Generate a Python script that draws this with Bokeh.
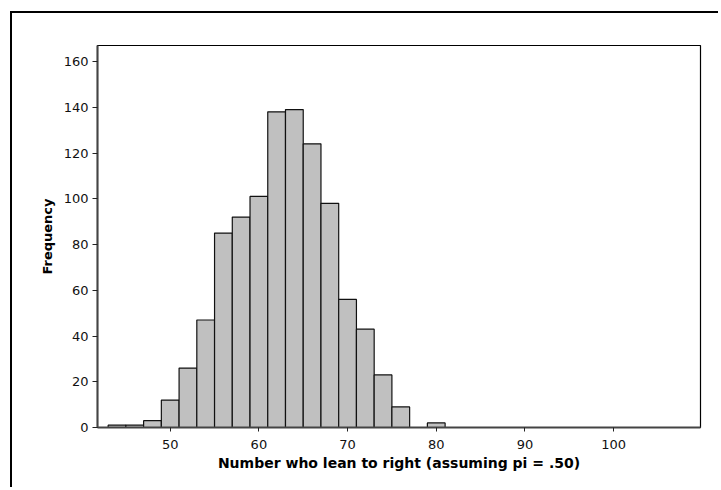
from bokeh.plotting import figure
from bokeh.models import FixedTicker, ColumnDataSource
from bokeh.embed import file_html
from bokeh.resources import INLINE

# Histogram data (bin centers, bin width 2)
bin_centers = [44, 46, 48, 50, 52, 54, 56, 58, 60, 62, 64, 66, 68, 70, 72, 74, 76, 78, 80,
               82, 84, 86, 88, 90, 92, 94, 96, 98, 100, 102, 104, 106, 108]
counts = [1, 1, 3, 12, 26, 47, 85, 92, 101, 138, 139, 124, 98, 56, 43, 23, 9, 0, 2,
          0, 0, 0, 0, 0, 0, 0, 0, 0, 0, 0, 0, 0, 0]
bin_width = 2
x_ticks = [50, 60, 70, 80, 90, 100]
y_ticks = [0, 20, 40, 60, 80, 100, 120, 140, 160]

src = ColumnDataSource(dict(
    left=[c - bin_width / 2 for c in bin_centers],
    right=[c + bin_width / 2 for c in bin_centers],
    top=counts,
    bottom=[0] * len(counts),
))

p = figure(width=708, height=476, x_range=(41.8, 109.8), y_range=(0, 167),
           output_backend="svg", toolbar_location=None,
           min_border_left=85, min_border_right=20, min_border_top=32, min_border_bottom=62)
p.margin = (11, 0, 0, 10)
p.styles = {"border-left": "2px solid black", "border-top": "2px solid black"}

p.quad(left="left", right="right", top="top", bottom="bottom", source=src,
       fill_color="#C0C0C0", line_color="#111111", line_width=1.2)

p.xgrid.visible = False
p.ygrid.visible = False
p.outline_line_color = "#000000"
p.outline_line_width = 1.2
p.background_fill_color = "white"
p.border_fill_color = "white"

for ax in (p.xaxis[0], p.yaxis[0]):
    ax.axis_line_color = "#444444"
    ax.axis_line_width = 2
    ax.major_tick_line_color = "#222222"
    ax.major_tick_in = 0
    ax.minor_tick_line_color = None
    ax.major_label_text_font = "DejaVu Sans"
    ax.major_label_text_font_size = "13px"
    ax.major_label_text_color = "#111111"
    ax.axis_label_text_font = "DejaVu Sans"
    ax.axis_label_text_font_style = "bold"
    ax.axis_label_text_color = "#000000"

p.xaxis.ticker = FixedTicker(ticks=x_ticks)
p.yaxis.ticker = FixedTicker(ticks=y_ticks)
p.xaxis.major_tick_out = 4
p.yaxis.major_tick_out = 5
p.xaxis.major_label_standoff = 8
p.yaxis.major_label_standoff = 4
p.xaxis.axis_label = "Number who lean to right (assuming pi = .50)"
p.yaxis.axis_label = "Frequency"
p.xaxis.axis_label_text_font_size = "14px"
p.yaxis.axis_label_text_font_size = "13px"
p.xaxis.axis_label_standoff = 3
p.yaxis.axis_label_standoff = 6

open("out.html", "w").write(file_html(p, INLINE))
